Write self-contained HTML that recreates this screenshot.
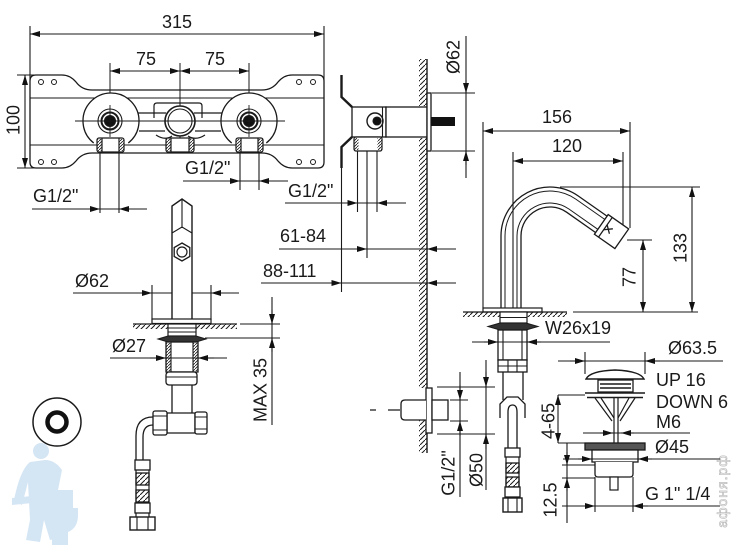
<!DOCTYPE html>
<html><head><meta charset="utf-8">
<style>
html,body{margin:0;padding:0;background:#fff;}
svg{display:block;}
text{font-family:"Liberation Sans",Arial,sans-serif;font-size:18px;fill:#1a1a1a;}
</style></head>
<body>
<svg width="739" height="554" viewBox="0 0 739 554" xmlns="http://www.w3.org/2000/svg">
<defs>
<marker id="a" viewBox="0 0 10 6" refX="10" refY="3" markerWidth="10" markerHeight="6" markerUnits="userSpaceOnUse" orient="auto-start-reverse"><path d="M0,0L10,3L0,6z" fill="#111"/></marker>
<pattern id="hp" patternUnits="userSpaceOnUse" width="5" height="5"><path d="M-1,6L6,-1" stroke="#1a1a1a" stroke-width="1"/></pattern>
<pattern id="hp3" patternUnits="userSpaceOnUse" width="3" height="3"><path d="M-1,4L4,-1" stroke="#1a1a1a" stroke-width="0.8"/></pattern>
</defs>

<!-- watermark plumber -->
<g fill="#d4e5f4" stroke="none">
<circle cx="41" cy="451" r="8"/>
<path d="M30,462Q20,470 14,500L22,505L28,482L30,520L26,540L40,542L44,520L50,540L60,538L56,500L62,470Q55,460 45,460Z"/>
<path d="M12,498L42,495L42,502L12,505Z"/>
<rect x="55" y="490" width="18" height="18"/>
<path d="M50,508L78,508L78,515Q78,528 68,532L68,545L52,545L52,530Q48,522 50,508Z"/>
</g>
<text transform="translate(727,491) rotate(-90)" text-anchor="middle" style="font-size:14px;fill:#fff;stroke:#bbb;stroke-width:0.7;letter-spacing:1px">афоня.рф</text>

<g stroke="#1a1a1a" stroke-width="1.1" fill="none">
<!-- ===== TOP VIEW ===== -->
<path d="M30,26V80M324,26V80"/>
<line x1="30" y1="34" x2="324" y2="34" marker-start="url(#a)" marker-end="url(#a)"/>
<path d="M110,63V150M180,63V150M249,63V150" stroke-width="1"/>
<line x1="110" y1="71" x2="180" y2="71" marker-start="url(#a)" marker-end="url(#a)"/>
<line x1="180" y1="71" x2="249" y2="71" marker-start="url(#a)" marker-end="url(#a)"/>
<path d="M17,75H40M17,168H40"/>
<line x1="25" y1="75" x2="25" y2="168" marker-start="url(#a)" marker-end="url(#a)"/>

<path stroke-width="1.3" d="M36,75L62,75Q70,75 76,82Q82,90 92,90L262,90Q272,90 278,82Q284,75 292,75L318,75Q324,75 324,81L324,162Q324,168 318,168L292,168Q284,168 278,161Q272,153 262,153L92,153Q82,153 76,161Q70,168 62,168L36,168Q30,168 30,162L30,81Q30,75 36,75Z"/>
<path d="M30,98H324M30,145H324"/>
<g stroke-width="1">
<circle cx="41" cy="82" r="2.5"/><circle cx="54" cy="82" r="2.5"/><circle cx="299" cy="82" r="2.5"/><circle cx="313" cy="82" r="2.5"/>
<circle cx="41" cy="162" r="2.5"/><circle cx="54" cy="162" r="2.5"/><circle cx="299" cy="162" r="2.5"/><circle cx="313" cy="162" r="2.5"/>
</g>
<!-- connectors -->
<path d="M138,113H166M139,131H165M194,113H222M195,131H221M156,135Q165,141 172,136M188,136Q196,141 205,135" stroke-width="1.2"/>
<!-- valves -->
<path d="M93.7,143A28,28 0 1 1 128.3,143" fill="#fff" stroke-width="1.3"/>
<path d="M231.7,143A28,28 0 1 1 266.3,143" fill="#fff" stroke-width="1.3"/>
<path d="M154,118V106Q154,103 157,103H199Q202,103 202,106V118" stroke-width="1.2"/>
<circle cx="180" cy="121" r="15" fill="#fff" stroke-width="1.6"/>
<circle cx="180" cy="121" r="12"/>
<path d="M75,121H285" stroke-width="0.9"/>
<circle cx="110" cy="121" r="12" fill="#fff"/><circle cx="110" cy="121" r="8.5" stroke-width="2"/><circle cx="110" cy="121" r="5.5" fill="#111"/>
<circle cx="249" cy="121" r="12" fill="#fff"/><circle cx="249" cy="121" r="8.5" stroke-width="2"/><circle cx="249" cy="121" r="5.5" fill="#111"/>
<path d="M110,105V137M249,105V137M94,121H126M233,121H265" stroke-width="0.9"/>
<!-- fittings -->
<g stroke-width="1.2">
<rect x="97" y="138" width="27" height="14" rx="2" fill="#fff"/><rect x="97.5" y="139" width="4.5" height="12" fill="url(#hp3)" stroke="none"/><rect x="119" y="139" width="4.5" height="12" fill="url(#hp3)" stroke="none"/><path d="M102,138V152M119,138V152"/>
<rect x="166" y="138" width="28" height="14" rx="2" fill="#fff"/><rect x="166.5" y="139" width="4.5" height="12" fill="url(#hp3)" stroke="none"/><rect x="189" y="139" width="4.5" height="12" fill="url(#hp3)" stroke="none"/><path d="M171,138V152M189,138V152"/>
<rect x="236" y="138" width="27" height="14" rx="2" fill="#fff"/><rect x="236.5" y="139" width="4.5" height="12" fill="url(#hp3)" stroke="none"/><rect x="258" y="139" width="4.5" height="12" fill="url(#hp3)" stroke="none"/><path d="M241,138V152M258,138V152"/>
</g>
<!-- G1/2 dims -->
<path d="M100,152V213M119,152V213M32,209H147"/>
<path d="M80,209H100" marker-end="url(#a)"/><path d="M140,209H119" marker-end="url(#a)"/>
<path d="M240,152V190M259,152V190M183,181H288"/>
<path d="M222,181H240" marker-end="url(#a)"/><path d="M278,181H259" marker-end="url(#a)"/>
<path d="M285,203H406"/>
<path d="M338,203H357.5" marker-end="url(#a)"/><path d="M396,203H377" marker-end="url(#a)"/>

<!-- ===== SIDE VIEW ===== -->
<rect x="419" y="59" width="8" height="47" fill="url(#hp)" stroke="none"/>
<rect x="419" y="138" width="8" height="250" fill="url(#hp)" stroke="none"/>
<rect x="419" y="420" width="8" height="33" fill="url(#hp)" stroke="none"/>
<path d="M427,59V453" stroke-width="1.4"/>
<path d="M341.5,75V97L352,107M352,137L341.5,147V168" stroke-width="2.4"/>
<rect x="352" y="107" width="34" height="30" fill="#fff" stroke-width="1.3"/>
<path d="M382.5,107V137"/>
<rect x="386" y="107" width="41" height="30" fill="#fff" stroke-width="1.3"/>
<circle cx="375" cy="121" r="8" stroke-width="1.4"/>
<circle cx="377" cy="121" r="4" fill="#111"/>
<rect x="427" y="93" width="4" height="58" fill="#fff" stroke-width="1.3"/>
<rect x="431" y="117" width="24" height="9" fill="#111" stroke="none"/>
<rect x="354" y="137" width="28" height="14" rx="2" fill="#fff" stroke-width="1.2"/>
<rect x="354.5" y="138" width="4" height="12" fill="url(#hp3)" stroke="none"/><rect x="377.5" y="138" width="4" height="12" fill="url(#hp3)" stroke="none"/>
<path d="M357.5,151V212M377,151V212M367,151V258M341.5,168V292"/>
<!-- O62 top -->
<path d="M432,93H475M432,151H475M466,36V178"/>
<path d="M466,80V93" marker-end="url(#a)"/><path d="M466,165V151" marker-end="url(#a)"/>
<!-- 61-84 / 88-111 -->
<path d="M279,249H456M261,283H456"/>
<path d="M350,249H367" marker-end="url(#a)"/><path d="M448,249H427" marker-end="url(#a)"/>
<path d="M325,283H341.5" marker-end="url(#a)"/><path d="M448,283H427" marker-end="url(#a)"/>

<!-- lower wall fitting -->
<rect x="426" y="388" width="6" height="45" fill="#fff" stroke-width="1.3"/>
<path d="M426,400H405Q401,400 401,404V416Q401,420 405,420H426" fill="#fff" stroke-width="1.3"/>
<rect x="432" y="400" width="16" height="20" fill="#fff" stroke-width="1.3"/>
<path d="M370,410H376M388,410H400" stroke-width="1.2"/>
<path d="M450,400H468M450,421H468M460,372V497"/>
<path d="M460,385V400" marker-end="url(#a)"/><path d="M460,436V421" marker-end="url(#a)"/>
<path d="M437,387H495M437,434H495M486,360V490"/>
<path d="M486,372V387" marker-end="url(#a)"/><path d="M486,449V434" marker-end="url(#a)"/>

<!-- ===== LEFT SPOUT ===== -->
<path d="M152,285V320M211,285V320M73,293H239"/>
<path d="M135,293H152" marker-end="url(#a)"/><path d="M228,293H211" marker-end="url(#a)"/>
<path d="M172,320V206L182,199L192,206V320" fill="#fff" stroke-width="1.4"/>
<path d="M182,199V228M172,233L182,227L192,233"/>
<polygon points="182,243 189.8,247.5 189.8,256.5 182,261 174.2,256.5 174.2,247.5" fill="#fff" stroke-width="1.3"/>
<circle cx="182" cy="252" r="5" stroke-width="1.2"/>
<rect x="152" y="319" width="59" height="4.5" fill="#fff" stroke-width="1.2"/>
<rect x="133" y="324" width="104" height="5" fill="url(#hp)" stroke="none"/>
<path d="M133,324H237" stroke-width="1.3"/>
<path d="M240,324H280M205,338H280M272,297V425"/>
<path d="M272,310V324" marker-end="url(#a)"/><path d="M272,352V338" marker-end="url(#a)"/>
<rect x="168" y="324" width="28" height="12" fill="#fff" stroke-width="1.2"/><path d="M168,328H196M168,332H196"/>
<path d="M158,339L168,336H196L206,339L196,342H168Z" fill="#333" stroke-width="1"/>
<rect x="166" y="342" width="32" height="30" fill="#fff" stroke-width="1.3"/>
<rect x="166.5" y="343" width="4.5" height="28" fill="url(#hp3)" stroke="none"/><rect x="193" y="343" width="4.5" height="28" fill="url(#hp3)" stroke="none"/>
<path d="M171,342V372M193,342V372"/>
<path d="M110,358H227"/>
<path d="M150,358H166" marker-end="url(#a)"/><path d="M214,358H198" marker-end="url(#a)"/>
<rect x="166" y="372" width="31" height="13" rx="3" fill="#fff" stroke-width="1.3"/><path d="M166,377H197"/>
<path d="M172,385V413M192,385V413" stroke-width="1.3"/>
<path d="M167,413H195V433H167Z" fill="#fff" stroke-width="1.3"/>
<rect x="153" y="411" width="14" height="24" rx="2" fill="#fff" stroke-width="1.3"/><path d="M153,416H167M153,430H167"/>
<rect x="195" y="412" width="12" height="22" rx="2" fill="#fff" stroke-width="1.3"/><path d="M195,417H207M195,429H207"/>
<path d="M153,417Q136,417 136,436V460M153,425Q143,425 143,437V460" stroke-width="1.3"/>
<path d="M136,470V517M149,470V517" stroke-width="1.2"/>
<rect x="135" y="460" width="15" height="10" fill="#fff" stroke-width="1.3"/>
<rect x="136" y="473" width="13" height="12" fill="url(#hp)" stroke-width="1.3"/>
<rect x="136" y="490" width="13" height="12" fill="url(#hp)" stroke-width="1.3"/>
<rect x="135" y="503" width="15" height="10" fill="#fff" stroke-width="1.3"/>
<rect x="130" y="517" width="25" height="13" fill="#fff" stroke-width="1.4"/><path d="M137,517V530M148,517V530"/>
<!-- escutcheon -->
<circle cx="57" cy="422" r="24" fill="#fff" stroke-width="1.5"/>
<circle cx="57" cy="422" r="9.5" stroke-width="4.5" stroke="#111"/>

<!-- ===== BIDET SPOUT ===== -->
<path d="M483,122V308M630,122V228"/>
<line x1="483" y1="131" x2="630" y2="131" marker-start="url(#a)" marker-end="url(#a)"/>
<path d="M513,152V308M623,152V225"/>
<line x1="513" y1="161" x2="623" y2="161" marker-start="url(#a)" marker-end="url(#a)"/>
<g stroke-width="1.3">
<path d="M501,308V236A49,49 0 0 1 578.1,195.9L607,216.1"/>
<path d="M505,308V236A45,45 0 0 1 575.8,199.1L604.7,219.4" stroke-width="1"/>
<path d="M517,308V236A33,33 0 0 1 568.9,209L597.8,229.3" stroke-width="1"/>
<path d="M521,308V236A29,29 0 0 1 566.6,212.2L595.5,232.5"/>
</g>
<g transform="translate(601.3,224.4) rotate(35)" stroke-width="1.3">
<rect x="0" y="-12" width="25" height="24" fill="#fff"/>
<path d="M5,-12V12M5,-3L12,3M5,3L12,-3"/>
</g>
<path d="M560,187H700M627,240H652"/>
<line x1="692" y1="187" x2="692" y2="312" marker-start="url(#a)" marker-end="url(#a)"/>
<line x1="643" y1="240" x2="643" y2="312" marker-start="url(#a)" marker-end="url(#a)"/>
<rect x="483" y="308" width="59" height="4" fill="#fff" stroke-width="1.2"/>
<rect x="463" y="312" width="104" height="5" fill="url(#hp)" stroke="none"/>
<path d="M463,312H567" stroke-width="1.3"/><path d="M573,312H698"/>
<rect x="500" y="312" width="27" height="11" fill="#fff" stroke-width="1.2"/><path d="M500,317.5H527"/>
<path d="M488,326.5L500,323H526L538,326.5L526,330H500Z" fill="#333" stroke-width="1"/>
<rect x="498" y="330" width="29" height="30" fill="#fff" stroke-width="1.3"/><path d="M503,330V360M522,330V360"/>
<rect x="498" y="360" width="29" height="12" fill="#fff" stroke-width="1.3"/><path d="M498,366H527M508,360V372M517,360V372"/>
<path d="M503,372V400M523,372V400" stroke-width="1.3"/>
<path d="M500,418V404L507,397H518L525,404V418" fill="#fff" stroke-width="1.3"/>
<path d="M508,448V412Q508,405 512.5,405Q517,405 517,412V448" stroke-width="1.3"/>
<path d="M506,457V498M519,457V498" stroke-width="1.2"/>
<rect x="505" y="448" width="15" height="9" fill="#fff" stroke-width="1.3"/>
<rect x="506" y="463" width="13" height="10" fill="url(#hp)" stroke-width="1.3"/>
<rect x="506" y="477" width="13" height="10" fill="url(#hp)" stroke-width="1.3"/>
<rect x="505" y="487" width="15" height="10" fill="#fff" stroke-width="1.3"/>
<rect x="503" y="498" width="19" height="14" fill="#fff" stroke-width="1.4"/><path d="M508,498V512M517,498V512"/>
<!-- W26x19 -->
<path d="M472,342H610"/>
<path d="M484,342H498" marker-end="url(#a)"/><path d="M541,342H527" marker-end="url(#a)"/>

<!-- ===== POP-UP WASTE ===== -->
<path d="M558,361H723M585,352V374M645,352V374"/>
<path d="M570,361H585" marker-end="url(#a)"/><path d="M660,361H645" marker-end="url(#a)"/>
<path d="M586,379Q590,371 615,370Q640,371 644,379Z" fill="#fff" stroke-width="1.4"/>
<rect x="598" y="380" width="35" height="12" fill="#fff" stroke-width="1.3"/>
<path d="M600,384H631M600,388H631" stroke-width="1.6"/>
<path d="M585,393H645M587,397.5H643" stroke-width="1.4"/>
<path d="M595,398L612,421M635,398L620,421M601,398L614,418M629,398L618,418" stroke-width="1.2"/>
<path d="M614,398V443M618,398V443" stroke-width="1.2"/>
<path d="M558,395H585M558,443H585"/>
<line x1="558" y1="395" x2="558" y2="443" marker-start="url(#a)" marker-end="url(#a)"/>
<path d="M583,433H690"/>
<path d="M600,433H613" marker-end="url(#a)"/><path d="M634,433H621" marker-end="url(#a)"/>
<rect x="585" y="443" width="60" height="7" fill="#555" stroke-width="1.3"/>
<rect x="592" y="450" width="46" height="12" fill="#fff" stroke-width="1.3"/>
<path d="M595,462V474Q595,477 598,477H630Q633,477 633,474V462" fill="#fff" stroke-width="1.3"/>
<rect x="610" y="477" width="8" height="13" fill="#fff" stroke-width="1.2"/>
<path d="M563,459H720"/>
<path d="M578,459H592" marker-end="url(#a)"/><path d="M652,459H638" marker-end="url(#a)"/>
<path d="M562,465H595M562,478H595M567,443V523"/>
<path d="M567,452V465" marker-end="url(#a)"/><path d="M567,491V478" marker-end="url(#a)"/>
<path d="M595,477V512M633,477V512M562,506H720"/>
<path d="M578,506H595" marker-end="url(#a)"/><path d="M648,506H633" marker-end="url(#a)"/>
</g>

<!-- ===== TEXT ===== -->
<text x="177" y="28" text-anchor="middle">315</text>
<text x="146" y="65" text-anchor="middle">75</text>
<text x="215" y="65" text-anchor="middle">75</text>
<text transform="translate(13,120) rotate(-90)" x="0" y="6.5" text-anchor="middle">100</text>
<text x="33" y="202">G1/2"</text>
<text x="185" y="174">G1/2"</text>
<text x="288" y="197">G1/2"</text>
<text transform="translate(453,57) rotate(-90)" x="0" y="6.5" text-anchor="middle">Ø62</text>
<text x="280" y="242">61-84</text>
<text x="263" y="277">88-111</text>
<text x="557" y="123" text-anchor="middle">156</text>
<text x="567" y="152" text-anchor="middle">120</text>
<text transform="translate(680,248) rotate(-90)" x="0" y="6.5" text-anchor="middle">133</text>
<text transform="translate(629,277) rotate(-90)" x="0" y="6.5" text-anchor="middle">77</text>
<text x="75" y="287">Ø62</text>
<text x="112" y="352">Ø27</text>
<text x="545" y="334">W26x19</text>
<text transform="translate(260,390) rotate(-90)" x="0" y="6.5" text-anchor="middle">MAX 35</text>
<text transform="translate(448,473) rotate(-90)" x="0" y="6.5" text-anchor="middle">G1/2"</text>
<text transform="translate(476,470) rotate(-90)" x="0" y="6.5" text-anchor="middle">Ø50</text>
<text x="668" y="354">Ø63.5</text>
<text x="656" y="386">UP 16</text>
<text x="656" y="408">DOWN 6</text>
<text x="656" y="428">M6</text>
<text x="655" y="453">Ø45</text>
<text x="645" y="500">G 1" 1/4</text>
<text transform="translate(548,421) rotate(-90)" x="0" y="6.5" text-anchor="middle">4-65</text>
<text transform="translate(550,500) rotate(-90)" x="0" y="6.5" text-anchor="middle">12.5</text>
</svg>
</body></html>
